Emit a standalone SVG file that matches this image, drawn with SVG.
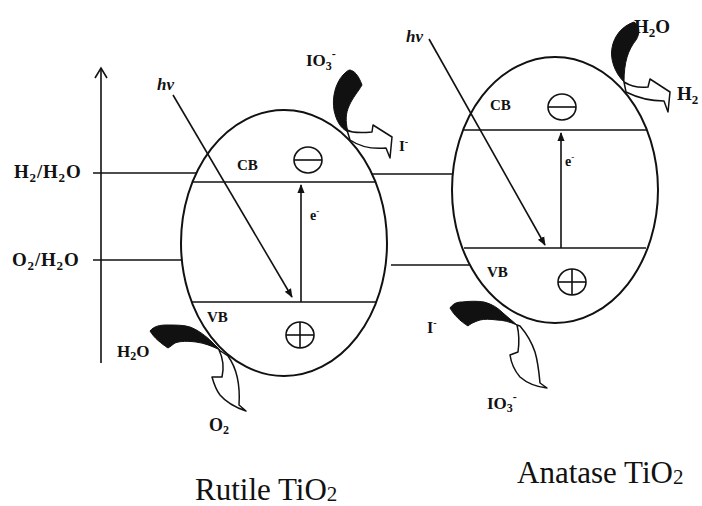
<svg xmlns="http://www.w3.org/2000/svg" width="702" height="506" viewBox="0 0 702 506">
<defs>
<style>
.ln{stroke:#111;stroke-width:1.6;fill:none}
.el{stroke:#111;stroke-width:2;fill:none}
.lb{font-family:"Liberation Serif","Times New Roman",serif;font-weight:bold;fill:#111}
.it{font-family:"Liberation Serif","Times New Roman",serif;font-style:italic;font-weight:bold;fill:#111}
.big{font-family:"Liberation Serif","Times New Roman",serif;fill:#111;font-size:31px}
.blk{fill:#111;stroke:#111;stroke-width:1}
.wht{fill:#fff;stroke:#111;stroke-width:1.5;stroke-linejoin:round}
</style>
<marker id="ah" viewBox="0 0 10 10" refX="9" refY="5" markerWidth="9" markerHeight="9" markerUnits="userSpaceOnUse" orient="auto">
<path d="M0,1 L10,5 L0,9 Z" fill="#111"/>
</marker>
</defs>
<rect width="702" height="506" fill="#fff"/>

<g id="axis">
<line class="ln" x1="101" y1="68" x2="101" y2="363"/>
<polyline class="ln" points="95,78 101,68 107,78"/>
<text class="lb" x="14" y="178" font-size="19" letter-spacing="0.8">H<tspan font-size="13" dy="4">2</tspan><tspan dy="-4">/H</tspan><tspan font-size="13" dy="4">2</tspan><tspan dy="-4">O</tspan></text>
<text class="lb" x="12" y="266" font-size="19" letter-spacing="0.8">O<tspan font-size="13" dy="4">2</tspan><tspan dy="-4">/H</tspan><tspan font-size="13" dy="4">2</tspan><tspan dy="-4">O</tspan></text>
</g>

<g id="connectors">
<line class="ln" x1="93" y1="173" x2="196" y2="173"/>
<line class="ln" x1="372" y1="174" x2="453" y2="174"/>
<line class="ln" x1="93" y1="260" x2="182" y2="260"/>
<line class="ln" x1="391" y1="265" x2="469" y2="265"/>
</g>

<g id="rutile">
<ellipse class="el" cx="284" cy="243" rx="103" ry="133"/>
<line class="ln" x1="193" y1="182" x2="376" y2="182"/>
<line class="ln" x1="192" y1="302" x2="376" y2="302"/>
<text class="lb" x="237" y="170" font-size="15">CB</text>
<text class="lb" x="207" y="322" font-size="15">VB</text>
<ellipse class="ln" cx="308" cy="160" rx="14" ry="13"/>
<line class="ln" x1="294" y1="160" x2="322" y2="160"/>
<ellipse class="ln" cx="300" cy="335" rx="14" ry="13"/>
<line class="ln" x1="286" y1="335" x2="314" y2="335"/>
<line class="ln" x1="300" y1="322" x2="300" y2="348"/>
<line class="ln" x1="301" y1="302" x2="301" y2="185" marker-end="url(#ah)"/>
<text class="lb" x="310" y="220" font-size="14">e<tspan font-size="9" dy="-6">-</tspan></text>
<line class="ln" x1="173" y1="95" x2="292" y2="297" marker-end="url(#ah)"/>
<text class="it" x="157" y="90" font-size="17">hv</text>
</g>

<g id="rutile-top-reaction">
<path class="blk" d="M350,70 C354,71 358,74 362,85 C358,92 353,97 349,106 C346,113 345,120 348,132 C340,128 336,120 334,110 C332,98 335,84 343,75 C346,72 348,70 350,70 Z"/>
<path class="wht" d="M347,130 C352,133 362,133 372,132 L373,125 L392,137 L390,158 L386,148 C376,149 362,148 350,140 Z"/>
<text class="lb" x="306" y="66" font-size="17">IO<tspan font-size="12" dy="4">3</tspan><tspan font-size="12" dy="-12">-</tspan></text>
<text class="lb" x="399" y="151" font-size="15">I<tspan font-size="10" dy="-6">-</tspan></text>
</g>

<g id="rutile-bottom-reaction">
<path class="blk" d="M150,331 C154,326 160,325 167,325 C176,325 184,325 190,327 C198,330 206,336 212,342 L220,350 C212,346 204,343 196,342 C188,341 180,341 175,343 C172,345 170,347 168,348 C162,344 154,338 150,331 Z"/>
<path class="wht" d="M219,350 C223,358 224,368 222,377 L212,377 C214,384 216,390 220,395 C226,402 234,407 246,411 L239,405 C240,390 238,370 228,356 Z"/>
<text class="lb" x="117" y="357" font-size="17">H<tspan font-size="12" dy="3">2</tspan><tspan dy="-3">O</tspan></text>
<text class="lb" x="209" y="431" font-size="18">O<tspan font-size="12" dy="3">2</tspan></text>
</g>

<g id="anatase">
<ellipse class="el" cx="555" cy="190" rx="103" ry="133"/>
<line class="ln" x1="463" y1="130" x2="647" y2="130"/>
<line class="ln" x1="464" y1="248" x2="646" y2="248"/>
<text class="lb" x="490" y="110" font-size="15">CB</text>
<text class="lb" x="487" y="277" font-size="15">VB</text>
<ellipse class="ln" cx="562" cy="107" rx="14" ry="13"/>
<line class="ln" x1="548" y1="107" x2="576" y2="107"/>
<ellipse class="ln" cx="572" cy="282" rx="14" ry="13"/>
<line class="ln" x1="558" y1="282" x2="586" y2="282"/>
<line class="ln" x1="572" y1="269" x2="572" y2="295"/>
<line class="ln" x1="561" y1="248" x2="561" y2="133" marker-end="url(#ah)"/>
<text class="lb" x="565" y="166" font-size="14">e<tspan font-size="9" dy="-6">-</tspan></text>
<line class="ln" x1="429" y1="39" x2="545" y2="245" marker-end="url(#ah)"/>
<text class="it" x="406" y="42" font-size="17">hv</text>
</g>

<g id="anatase-top-reaction">
<path class="blk" d="M634,22 C640,26 640,34 636,40 C628,50 624,62 624,82 C614,72 610,58 612,48 C614,36 622,26 634,22 Z"/>
<path class="wht" d="M624,82 C632,87 640,88 648,87 L650,79 L670,92 L668,112 L664,101 C652,101 638,98 626,92 Z"/>
<text class="lb" x="634" y="33" font-size="19">H<tspan font-size="13" dy="4">2</tspan><tspan dy="-4">O</tspan></text>
<text class="lb" x="677" y="100" font-size="19">H<tspan font-size="13" dy="4">2</tspan></text>
</g>

<g id="anatase-bottom-reaction">
<path class="blk" d="M450,308 C453,304 456,302 462,302 C470,301 478,301 484,302 C492,304 498,308 503,313 L517,325 C510,322 503,320 497,320 C490,319 484,319 480,320 C474,322 470,324 468,326 C460,321 454,315 450,308 Z"/>
<path class="wht" d="M517,325 C519,333 519,345 518,352 L510,355 C511,362 514,370 520,377 C528,384 538,387 547,388 L540,383 C539,372 538,362 535,352 C532,343 526,333 520,326 Z"/>
<text class="lb" x="427" y="333" font-size="16">I<tspan font-size="10" dy="-7">-</tspan></text>
<text class="lb" x="487" y="409" font-size="17">IO<tspan font-size="12" dy="3">3</tspan><tspan font-size="12" dy="-11">-</tspan></text>
</g>

<g id="titles">
<text class="big" x="195" y="500">Rutile TiO<tspan font-size="21" dy="1">2</tspan></text>
<text class="big" x="517" y="483">Anatase TiO<tspan font-size="21" dy="1">2</tspan></text>
</g>
</svg>
